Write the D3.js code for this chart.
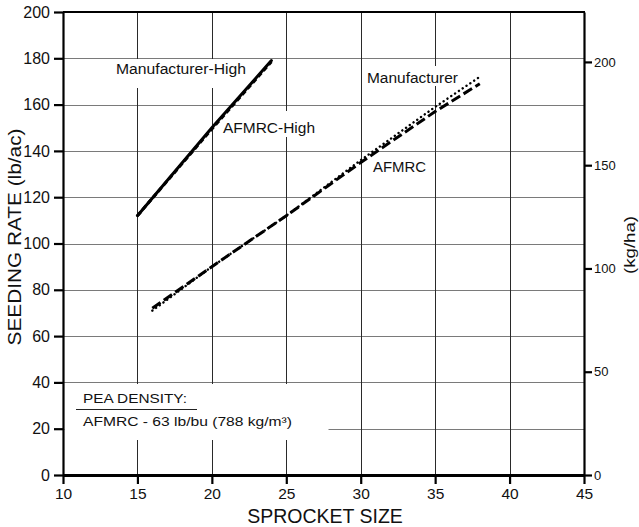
<!DOCTYPE html>
<html>
<head>
<meta charset="utf-8">
<script src="https://cdn.jsdelivr.net/npm/d3@7"></script>
<style>
  html, body { margin: 0; padding: 0; background: #fff; }
  svg { display: block; font-family: "Liberation Sans", Arial, Helvetica, sans-serif; }
</style>
</head>
<body>
<svg id="chart" width="639" height="527"></svg>
<script>
// ---- data ----
const xTicks = [10, 15, 20, 25, 30, 35, 40, 45];
const yTicks = [0, 20, 40, 60, 80, 100, 120, 140, 160, 180, 200];
const y2Ticks = [0, 50, 100, 150, 200];
const kgPerLb = 1.12085;

const highSprockets = [15, 20, 24];
const manufacturerHigh = [112, 150, 179];
const afmrcHigh = [112, 149.5, 178.5];

const lowSprockets = [16, 20, 25, 30, 35, 38];
const afmrc = [72, 90, 112, 135, 157, 169];
const manufacturer = [71, 90, 112, 136, 159, 172];

const densityTitle = "PEA DENSITY:";
const densityText = "AFMRC - 63 lb/bu (788 kg/m³)";

// ---- layout ----
const svg = d3.select("#chart");
const L = 63, R = 584, T = 12, B = 475;
const x = d3.scaleLinear().domain([10, 45]).range([L, R]);
const y = d3.scaleLinear().domain([0, 200]).range([B, T]);
const y2 = d3.scaleLinear().domain([0, 200 * kgPerLb]).range([B, T]);
const crisp = v => Math.round(v) + 0.5;

// grid
const grid = svg.append("g").attr("class", "grid");
grid.selectAll("line.h").data(yTicks.filter(d => d > 0 && d < 200)).join("line")
  .attr("class", "h")
  .attr("x1", L).attr("x2", R).attr("y1", d => crisp(y(d))).attr("y2", d => crisp(y(d)))
  .attr("stroke", "#7a7a7a").attr("stroke-width", 1);
grid.selectAll("line.v").data(xTicks.filter(d => d > 10 && d < 45)).join("line")
  .attr("class", "v")
  .attr("y1", T).attr("y2", B).attr("x1", d => crisp(x(d))).attr("x2", d => crisp(x(d)))
  .attr("stroke", "#2a2a2a").attr("stroke-width", 1);

// white box behind density note
svg.append("rect").attr("x", L + 1.5).attr("y", 384).attr("width", 327 - L).attr("height", 56).attr("fill", "#fff");

// label backgrounds + labels
const labels = [
  { t: "Manufacturer-High", x: 116, y: 74, w: 130, bx: 112, by: 59, bw: 138, bh: 29 },
  { t: "AFMRC-High", x: 223, y: 133, w: 92, bx: 219, by: 111, bw: 100, bh: 26 },
  { t: "Manufacturer", x: 367, y: 83, w: 91, bx: 364, by: 66, bw: 97, bh: 20 },
  { t: "AFMRC", x: 373, y: 172, w: 53, bx: 369, by: 158, bw: 61, bh: 18 }
];
svg.append("g").selectAll("rect").data(labels).join("rect")
  .attr("x", d => d.bx).attr("y", d => d.by).attr("width", d => d.bw).attr("height", d => d.bh)
  .attr("fill", "#fff");

// lines
const line = d3.line().x(d => x(d[0])).y(d => y(d[1]));
function drawSeries(xs, ys, w, dash, cap) {
  svg.append("path").datum(xs.map((v, i) => [v, ys[i]]))
    .attr("d", line).attr("fill", "none").attr("stroke", "#000")
    .attr("stroke-width", w).attr("stroke-dasharray", dash).attr("stroke-linecap", cap || "butt");
}
drawSeries(highSprockets, manufacturerHigh, 3, null, "round");
drawSeries(highSprockets, afmrcHigh, 3, "5,3", "butt");
drawSeries(lowSprockets, afmrc, 3, "10,4", "butt");
drawSeries(lowSprockets, manufacturer, 2.4, "0.1,4.5", "round");

svg.append("g").selectAll("text").data(labels).join("text")
  .attr("x", d => d.x).attr("y", d => d.y)
  .attr("textLength", d => d.w).attr("lengthAdjust", "spacingAndGlyphs")
  .attr("font-size", 14).attr("fill", "#111").text(d => d.t);

// density note
svg.append("text").attr("x", 83).attr("y", 403).attr("font-size", 13.5)
  .attr("textLength", 104).attr("lengthAdjust", "spacingAndGlyphs").attr("fill", "#111").text(densityTitle);
svg.append("line").attr("x1", 76).attr("x2", 197).attr("y1", 409.5).attr("y2", 409.5)
  .attr("stroke", "#222").attr("stroke-width", 1.2);
svg.append("text").attr("x", 83).attr("y", 426).attr("font-size", 13.5)
  .attr("textLength", 209).attr("lengthAdjust", "spacingAndGlyphs").attr("fill", "#111").text(densityText);

// frame (top)
svg.append("line").attr("x1", L).attr("x2", R + 1).attr("y1", T).attr("y2", T).attr("stroke", "#000").attr("stroke-width", 2.2);

// axes
const axL = svg.append("g").attr("transform", `translate(${L},0)`)
  .call(d3.axisLeft(y).tickValues(yTicks).tickSize(9).tickSizeOuter(0).tickPadding(4));
const axB = svg.append("g").attr("transform", `translate(0,${B})`)
  .call(d3.axisBottom(x).tickValues(xTicks).tickSize(9).tickSizeOuter(0).tickPadding(4));
const axR = svg.append("g").attr("transform", `translate(${R},0)`)
  .call(d3.axisRight(y2).tickValues(y2Ticks).tickSize(8).tickSizeOuter(0).tickPadding(2));

[axL, axB, axR].forEach(g => {
  g.select(".domain").attr("stroke", "#000").attr("stroke-width", 2.2);
  g.selectAll(".tick line").attr("stroke", "#000").attr("stroke-width", 2.2);
  g.selectAll(".tick text").attr("fill", "#111").attr("font-family", "Liberation Sans, Arial, sans-serif");
});
axL.selectAll(".tick text").attr("font-size", 16);
axB.selectAll(".tick text").attr("font-size", 15.5);
axR.selectAll(".tick text").attr("font-size", 13);
axB.select(".domain").attr("stroke-width", 2.8);

// axis titles
svg.append("text").attr("x", 325).attr("y", 523).attr("text-anchor", "middle")
  .attr("font-size", 19.5).attr("fill", "#111").text("SPROCKET SIZE");
svg.append("text").attr("transform", "translate(21,237) rotate(-90)").attr("text-anchor", "middle")
  .attr("font-size", 19).attr("textLength", 217).attr("lengthAdjust", "spacingAndGlyphs")
  .attr("fill", "#111").text("SEEDING RATE (lb/ac)");
svg.append("text").attr("transform", "translate(635,245) rotate(-90)").attr("text-anchor", "middle")
  .attr("font-size", 15.5).attr("textLength", 58).attr("lengthAdjust", "spacingAndGlyphs")
  .attr("fill", "#111").text("(kg/ha)");
</script>
</body>
</html>
